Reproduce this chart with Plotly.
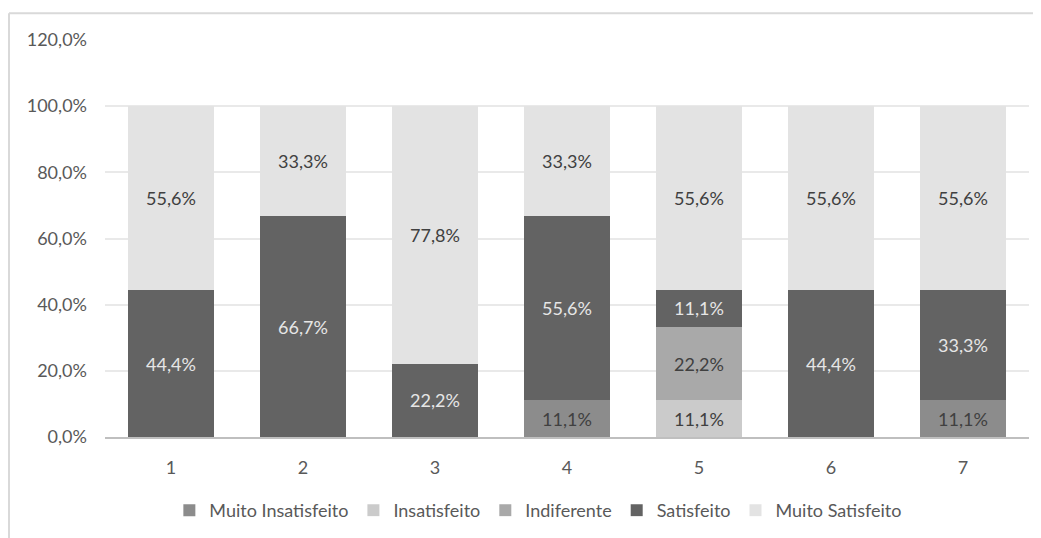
import plotly.graph_objects as go

categories = ["1", "2", "3", "4", "5", "6", "7"]
muito_insatisfeito = [None, None, None, 11.1, None, None, 11.1]
insatisfeito = [None, None, None, None, 11.1, None, None]
indiferente = [None, None, None, None, 22.2, None, None]
satisfeito = [44.4, 66.7, 22.2, 55.6, 11.1, 44.4, 33.3]
muito_satisfeito = [55.6, 33.3, 77.8, 33.3, 55.6, 55.6, 55.6]

series = [
    ("Muito Insatisfeito", muito_insatisfeito, "#8c8c8c", "#404040"),
    ("Insatisfeito", insatisfeito, "#cbcbcb", "#404040"),
    ("Indiferente", indiferente, "#a9a9a9", "#404040"),
    ("Satisfeito", satisfeito, "#636363", "#e6e6e6"),
    ("Muito Satisfeito", muito_satisfeito, "#e3e3e3", "#404040"),
]

FONT = "Lato, Carlito, Calibri, sans-serif"

def fmt(v):
    return None if v is None else f"{v:.1f}%".replace(".", ",")

fig = go.Figure()
for name, vals, color, tcolor in series:
    fig.add_trace(go.Bar(
        x=categories,
        y=[None if v is None else v / 100 for v in vals],
        name=name,
        marker=dict(color=color, line=dict(width=0)),
        text=[fmt(v) for v in vals],
        textposition="inside",
        insidetextanchor="middle",
        textangle=0,
        constraintext="none",
        textfont=dict(color=tcolor, size=18, family=FONT),
        hoverinfo="skip",
    ))

fig.update_layout(
    template="none",
    barmode="stack",
    bargap=0.35,
    width=1033,
    height=530,
    margin=dict(l=97, r=12, t=32, b=101, autoexpand=False),
    paper_bgcolor="white",
    plot_bgcolor="white",
    separators=",.",
    font=dict(family=FONT, color="#595959", size=18),
    showlegend=True,
    legend=dict(
        orientation="h",
        x=0.469, xanchor="center",
        y=-0.185, yanchor="middle",
        font=dict(size=18, color="#595959", family=FONT),
        itemwidth=30,
        traceorder="normal",
        bgcolor="rgba(0,0,0,0)",
    ),
    xaxis=dict(
        showgrid=False,
        showline=True,
        linecolor="#bfbfbf",
        linewidth=2,
        ticks="",
        automargin=False,
        ticklabelstandoff=13,
        tickfont=dict(size=18, color="#595959", family=FONT),
    ),
    yaxis=dict(
        range=[0, 1.2],
        dtick=0.2,
        tickformat=".1%",
        showgrid=True,
        gridcolor="#e9e9e9",
        gridwidth=1.5,
        zeroline=False,
        showline=False,
        ticks="",
        automargin=False,
        ticklabelstandoff=17,
        tickfont=dict(size=18, color="#595959", family=FONT),
    ),
    shapes=[
        dict(type="line", xref="paper", yref="paper", x0=-0.1039, x1=1.013, y0=1.0672, y1=1.0672,
             line=dict(color="#d9d9d9", width=2)),
        dict(type="line", xref="paper", yref="paper", x0=-0.1039, x1=-0.1039, y0=1.0672, y1=-0.26,
             line=dict(color="#d9d9d9", width=2)),
    ],
)

fig.write_html("out.html")
